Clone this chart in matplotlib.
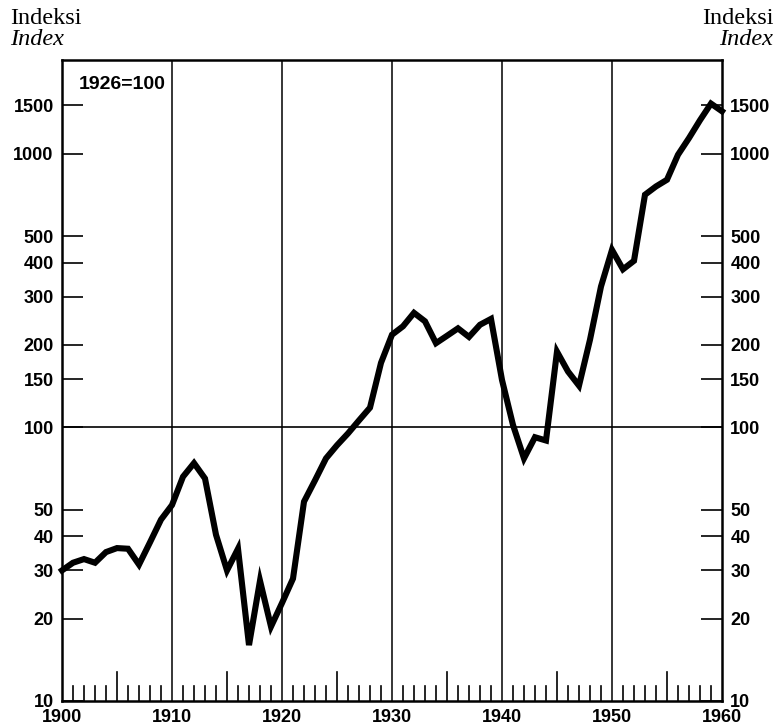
import numpy as np
import matplotlib.pyplot as plt
from matplotlib.ticker import FixedLocator, NullLocator

#----------DATA----------
years = list(range(1900, 1961))
index_values = [
    30, 32, 33, 32, 35, 36.2, 36, 31.5, 38, 46,
    52, 66, 74, 65, 40.5, 30, 36, 16, 27.5, 18.7,
    22.8, 28, 53.5, 64, 77, 86, 95, 106, 118, 172,
    218, 234, 262, 244, 203, 216, 230, 214, 237, 249,
    149, 102, 77, 92, 89.5, 189, 160, 142, 209, 327,
    445, 378, 406, 708, 759, 803, 991, 1140, 1325, 1524,
    1429,
]
y_ticks = [10, 20, 30, 40, 50, 100, 150, 200, 300, 400, 500, 1000, 1500]
x_labels = [1900, 1910, 1920, 1930, 1940, 1950, 1960]

label_font = {"family": "Liberation Sans", "weight": "bold", "size": 13}

#----------FIGURE----------
fig = plt.figure(figsize=(7.78, 7.27), dpi=100)
ax = fig.add_axes([0.0797, 0.0358, 0.8483, 0.8817])

ax.set_yscale("log")
ax.set_xlim(1900, 1960)
ax.set_ylim(10, 2200)

# decade grid lines and the 100 line
for yr in x_labels[1:-1]:
    ax.axvline(yr, color="black", lw=1.1, zorder=1)
ax.axhline(100, color="black", lw=1.2, zorder=1)

ax.plot(years, index_values, color="black", lw=4.4,
        solid_joinstyle="miter", zorder=3, clip_on=False)

for s in ax.spines.values():
    s.set_linewidth(1.8)

# y ticks on both sides, pointing inward
ax.yaxis.set_major_locator(FixedLocator(y_ticks))
ax.yaxis.set_minor_locator(NullLocator())
ax.set_yticklabels([str(v) for v in y_ticks])
ax.tick_params(axis="y", which="major", direction="in", length=15, width=1.2,
               left=True, right=True, labelleft=True, labelright=True, pad=6)
for lab in ax.get_yticklabels():
    lab.set(**label_font)

# x ticks: year ticks inward, longer every 5 years
ax.xaxis.set_major_locator(FixedLocator(x_labels))
ax.set_xticklabels([str(v) for v in x_labels])
ax.tick_params(axis="x", which="major", length=0, pad=6)
for lab in ax.get_xticklabels():
    lab.set(**label_font)
for yr in years:
    if yr % 10 == 0:
        continue
    h = 0.105 if yr % 5 == 0 else 0.053
    ax.plot([yr, yr], [10, 10 ** (1 + h)], color="black", lw=1.2, zorder=2)

# labels
ax.text(0.025, 0.975, "1926=100", transform=ax.transAxes, ha="left", va="top",
        fontfamily="Liberation Sans", fontweight="bold", fontsize=14)
fig.text(0.013, 0.967, "Indeksi", family="Liberation Serif", fontsize=17.5,
         ha="left", va="baseline")
fig.text(0.013, 0.938, "Index", family="Liberation Serif", style="italic",
         fontsize=17.5, ha="left", va="baseline")
fig.text(0.994, 0.967, "Indeksi", family="Liberation Serif", fontsize=17.5,
         ha="right", va="baseline")
fig.text(0.994, 0.938, "Index", family="Liberation Serif", style="italic",
         fontsize=17.5, ha="right", va="baseline")

fig.savefig("out.png", dpi=100)
